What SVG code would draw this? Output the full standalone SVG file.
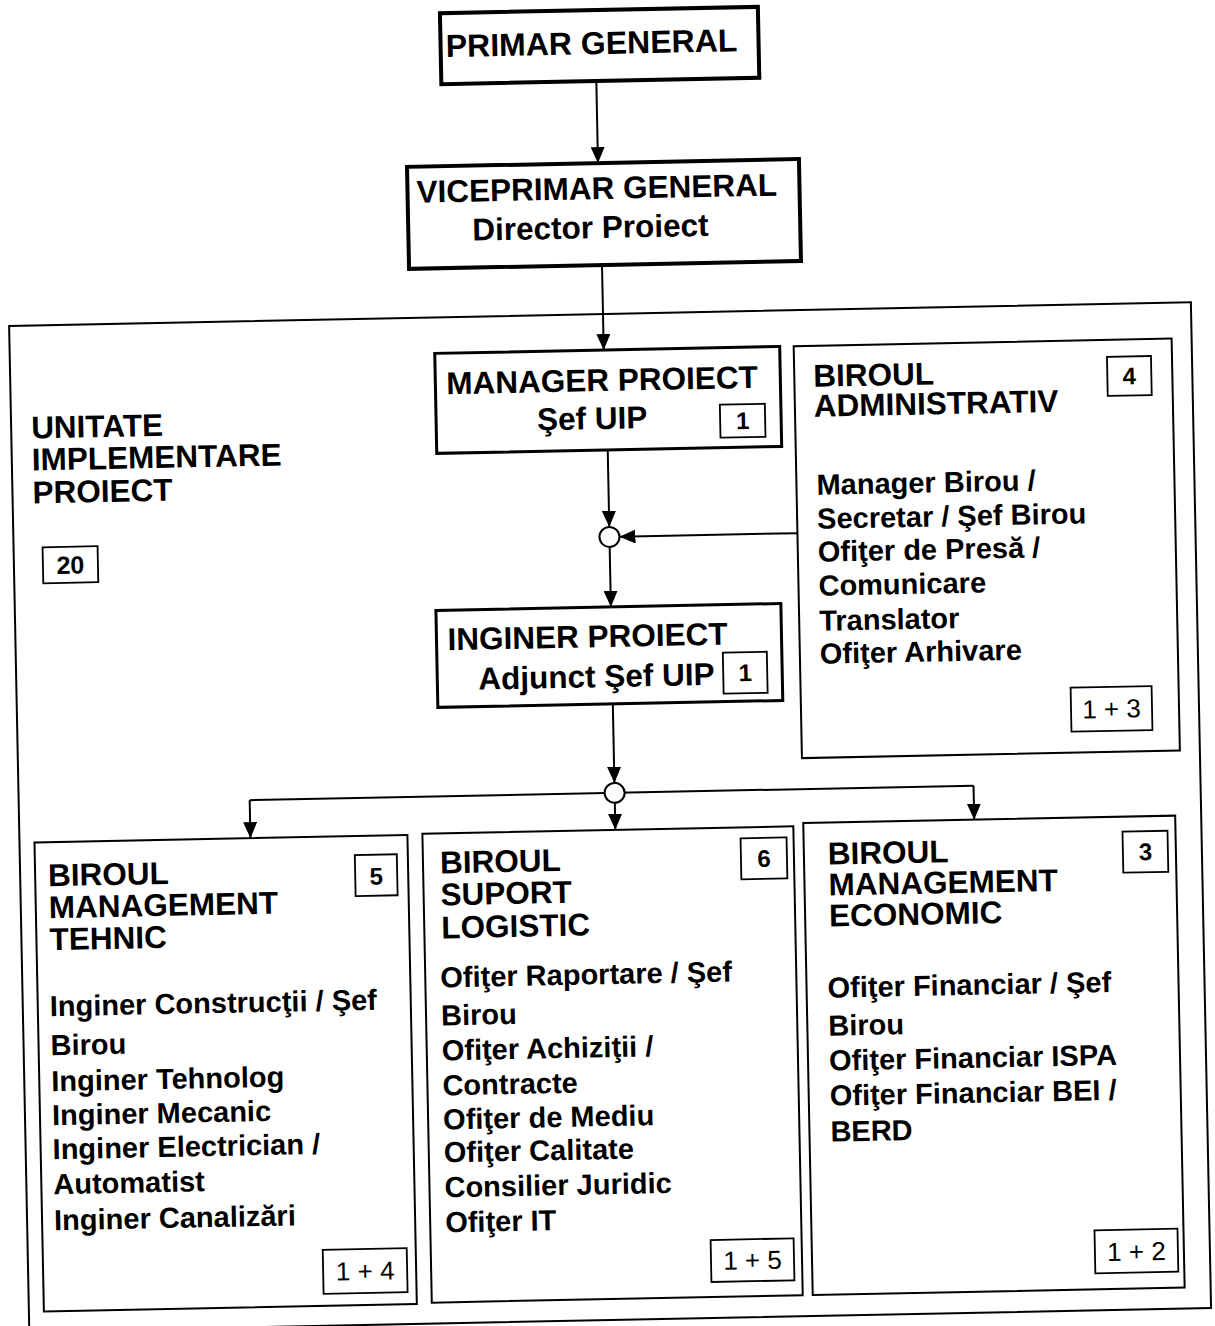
<svg xmlns="http://www.w3.org/2000/svg" width="1215" height="1326" viewBox="0 0 1215 1326">
<style>
.bx{fill:#fff;stroke:#000;stroke-width:2}
.thick{stroke-width:4}
.mid{stroke-width:3}
.bd{fill:none;stroke:#000;stroke-width:1.8}
.ln{fill:none;stroke:#000;stroke-width:2}
.jn{fill:#fff;stroke:#000;stroke-width:2}
text{font-family:"Liberation Sans",Arial,Helvetica,sans-serif;fill:#000}
.h{font-size:31.5px;font-weight:bold}
.h32{font-size:32px;font-weight:bold}
.i{font-size:29px;font-weight:bold}
.b{font-size:24px;font-weight:bold;text-anchor:middle}
.b20{font-size:25px;font-weight:bold;text-anchor:middle}
.n{font-size:26px;text-anchor:middle}
</style>
<defs>
<marker id="arr" markerUnits="userSpaceOnUse" markerWidth="16" markerHeight="14" refX="16" refY="7" orient="auto">
<path d="M0,0 L16,7 L0,14 z" fill="#000"/>
</marker>
</defs>
<rect width="1215" height="1326" fill="#fff"/>
<g transform="rotate(-1.15 607 663)">
<g id="uip">
<rect class="bx" x="16" y="314" width="1182" height="1006"/>
<text class="h" x="36" y="427">UNITATE</text>
<text class="h" x="36" y="459">IMPLEMENTARE</text>
<text class="h" x="36" y="492">PROIECT</text>
<rect class="bd" x="45" y="536" width="55" height="36"/>
<text class="b20" x="72.5" y="563">20</text>
</g>
<g id="connectors">
<path class="ln" d="M608,81 V163" marker-end="url(#arr)"/>
<path class="ln" d="M610,265 V350" marker-end="url(#arr)"/>
<path class="ln" d="M612,450 V527" marker-end="url(#arr)"/>
<path class="ln" d="M800,537 H622" marker-end="url(#arr)"/>
<path class="ln" d="M612,547 V607" marker-end="url(#arr)"/>
<path class="ln" d="M612,704 V783" marker-end="url(#arr)"/>
<path class="ln" d="M247,793 H971"/>
<path class="ln" d="M247,793 V831" marker-end="url(#arr)"/>
<path class="ln" d="M612,803 V830" marker-end="url(#arr)"/>
<path class="ln" d="M971,793 V827" marker-end="url(#arr)"/>
<circle class="jn" cx="612" cy="537" r="10"/>
<circle class="jn" cx="612" cy="793" r="10"/>
</g>
<g id="primar">
<rect class="bx thick" x="453" y="10" width="318" height="71"/>
<text class="h32" x="604" y="54" text-anchor="middle">PRIMAR GENERAL</text>
</g>
<g id="viceprimar">
<rect class="bx thick" x="417" y="163" width="392" height="102"/>
<text class="h" x="426" y="199">VICEPRIMAR GENERAL</text>
<text class="h" x="481" y="238">Director Proiect</text>
</g>
<g id="manager">
<rect class="bx mid" x="441" y="350" width="345" height="100"/>
<text class="h" x="452" y="391">MANAGER PROIECT</text>
<text class="h" x="542" y="429">Şef UIP</text>
<rect class="bd" x="725" y="407" width="45" height="33"/>
<text class="b" x="747.5" y="432">1</text>
</g>
<g id="inginer">
<rect class="bx mid" x="437" y="607" width="345" height="97"/>
<text class="h" x="448" y="647">INGINER PROIECT</text>
<text class="h" x="478" y="687">Adjunct Şef UIP</text>
<rect class="bd" x="723" y="655" width="44" height="41"/>
<text class="b" x="745" y="684">1</text>
</g>
<g id="birou-administrativ">
<rect class="bx" x="800" y="350" width="378" height="412"/>
<text class="h" x="819" y="391">BIROUL</text>
<text class="h" x="819" y="421">ADMINISTRATIV</text>
<rect class="bd" x="1113" y="367" width="44" height="39"/>
<text class="b" x="1135" y="395">4</text>
<text class="i" x="820" y="499">Manager Birou /</text>
<text class="i" x="820" y="533">Secretar / Şef Birou</text>
<text class="i" x="820" y="566">Ofiţer de Presă /</text>
<text class="i" x="820" y="600">Comunicare</text>
<text class="i" x="820" y="635">Translator</text>
<text class="i" x="820" y="668">Ofiţer Arhivare</text>
<rect class="bd" x="1070" y="697" width="81" height="44"/>
<text class="n" x="1110.5" y="728">1 + 3</text>
</g>
<g id="birou-tehnic">
<rect class="bx" x="31" y="831" width="373" height="469"/>
<text class="h" x="44" y="875">BIROUL</text>
<text class="h" x="44" y="907">MANAGEMENT</text>
<text class="h" x="44" y="939">TEHNIC</text>
<rect class="bd" x="351" y="850" width="42" height="41"/>
<text class="b" x="372" y="880">5</text>
<text class="i" x="43" y="1005">Inginer Construcţii / Şef</text>
<text class="i" x="43" y="1044">Birou</text>
<text class="i" x="43" y="1080">Inginer Tehnolog</text>
<text class="i" x="43" y="1114">Inginer Mecanic</text>
<text class="i" x="43" y="1148">Inginer Electrician /</text>
<text class="i" x="43" y="1183">Automatist</text>
<text class="i" x="43" y="1219">Inginer Canalizări</text>
<rect class="bd" x="311" y="1244" width="84" height="44"/>
<text class="n" x="353" y="1275">1 + 4</text>
</g>
<g id="birou-logistic">
<rect class="bx" x="419" y="830" width="371" height="469"/>
<text class="h" x="436" y="870">BIROUL</text>
<text class="h" x="436" y="902">SUPORT</text>
<text class="h" x="436" y="935">LOGISTIC</text>
<rect class="bd" x="737" y="841" width="46" height="41"/>
<text class="b" x="760" y="870">6</text>
<text class="i" x="434" y="984">Ofiţer Raportare / Şef</text>
<text class="i" x="434" y="1022">Birou</text>
<text class="i" x="434" y="1057">Ofiţer Achiziţii /</text>
<text class="i" x="434" y="1092">Contracte</text>
<text class="i" x="434" y="1126">Ofiţer de Mediu</text>
<text class="i" x="434" y="1159">Ofiţer Calitate</text>
<text class="i" x="434" y="1194">Consilier Juridic</text>
<text class="i" x="434" y="1229">Ofiţer IT</text>
<rect class="bd" x="699" y="1242" width="83" height="42"/>
<text class="n" x="740.5" y="1272">1 + 5</text>
</g>
<g id="birou-economic">
<rect class="bx" x="800" y="827" width="372" height="472"/>
<text class="h" x="824" y="869">BIROUL</text>
<text class="h" x="824" y="900">MANAGEMENT</text>
<text class="h" x="824" y="931">ECONOMIC</text>
<rect class="bd" x="1119" y="842" width="45" height="41"/>
<text class="b" x="1141.5" y="871">3</text>
<text class="i" x="821" y="1002">Ofiţer Financiar / Şef</text>
<text class="i" x="821" y="1040">Birou</text>
<text class="i" x="821" y="1075">Ofiţer Financiar ISPA</text>
<text class="i" x="821" y="1110">Ofiţer Financiar BEI /</text>
<text class="i" x="821" y="1146">BERD</text>
<rect class="bd" x="1083" y="1240" width="83" height="43"/>
<text class="n" x="1124.5" y="1271">1 + 2</text>
</g>
</g>
</svg>
